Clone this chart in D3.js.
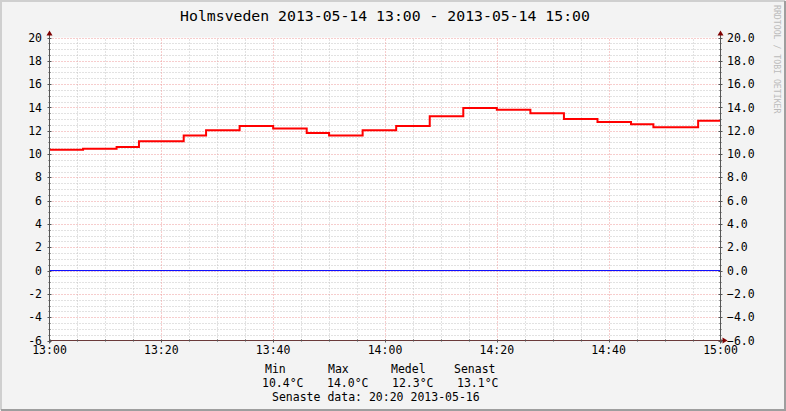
<!DOCTYPE html>
<html>
<head>
<meta charset="utf-8">
<script src="https://cdn.jsdelivr.net/npm/d3@7"></script>
<style>
  body { margin: 0; background: #fff; }
  text { font-family: "DejaVu Sans Mono", monospace; }
</style>
</head>
<body>
<svg id="chart" width="786" height="411"></svg>
<script>
// minutes after 13:00 where the reading changes, and the reading from there on
var stepMinutes = [0, 6, 12, 16, 24, 28, 34, 40, 46, 50, 56, 62, 68, 74, 80, 86, 92, 98, 104, 108, 116];
var tempValues = [10.37, 10.45, 10.6, 11.1, 11.6, 12.05, 12.4, 12.2, 11.8, 11.6, 12.05, 12.4, 13.25, 13.95, 13.8, 13.5, 13.0, 12.75, 12.55, 12.3, 12.85];
// second series, flat at zero
var zeroMinutes = [0, 120];
var zeroValues = [0, 0];

var yTicks = [-6, -4, -2, 0, 2, 4, 6, 8, 10, 12, 14, 16, 18, 20];
var xTickLabels = ["13:00", "13:20", "13:40", "14:00", "14:20", "14:40", "15:00"];
var legendHeads = ["Min", "Max", "Medel", "Senast"];
var legendValues = ["10.4°C", "14.0°C", "12.3°C", "13.1°C"];
var title = "Holmsveden 2013-05-14 13:00 - 2013-05-14 15:00";
var lastData = "Senaste data: 20:20 2013-05-16";

var W = 786, H = 411;
var svg = d3.select("#chart");

var t0 = new Date(2013, 4, 14, 13, 0);
var t1 = new Date(2013, 4, 14, 15, 0);
function minToDate(m) { return new Date(t0.getTime() + m * 60000); }

var x = d3.scaleTime().domain([t0, t1]).range([49.5, 720.5]);
var y = d3.scaleLinear().domain([-6, 20]).range([340.5, 37.5]);

// background + 3d-ish frame
svg.append("rect").attr("width", W).attr("height", H).attr("fill", "#f3f3f3");
svg.append("path").attr("d", "M1," + (H - 1) + " V1 H" + (W - 1))
  .attr("fill", "none").attr("stroke", "#cfcfcf").attr("stroke-width", 2);
svg.append("path").attr("d", "M1," + (H - 1) + " H" + (W - 1) + " V1")
  .attr("fill", "none").attr("stroke", "#9e9e9e").attr("stroke-width", 2);

// canvas
svg.append("rect")
  .attr("x", x.range()[0]).attr("y", y.range()[1])
  .attr("width", x.range()[1] - x.range()[0])
  .attr("height", y.range()[0] - y.range()[1])
  .attr("fill", "#fff");

var grid = svg.append("g");

// minor grid (every 5 min / 0.5 degree)
var minorX = d3.range(5, 120, 5).filter(function(m) { return m % 20 != 0; });
grid.selectAll(".vminor").data(minorX).join("line")
  .attr("x1", function(m) { return Math.round(x(minToDate(m))) + 0.5; })
  .attr("x2", function(m) { return Math.round(x(minToDate(m))) + 0.5; })
  .attr("y1", y(-6)).attr("y2", y(20))
  .attr("stroke", "#c4c4c4").attr("stroke-dasharray", "1,2");

var minorY = d3.range(-5.5, 20, 0.5).filter(function(v) { return v % 2 != 0; });
grid.selectAll(".hminor").data(minorY).join("line")
  .attr("x1", x(t0)).attr("x2", x(t1))
  .attr("y1", function(v) { return Math.round(y(v)) + 0.5; })
  .attr("y2", function(v) { return Math.round(y(v)) + 0.5; })
  .attr("stroke", "#c4c4c4").attr("stroke-dasharray", "1,2");

// major grid
var majorX = d3.range(20, 120, 20);
grid.selectAll(".vmajor").data(majorX).join("line")
  .attr("x1", function(m) { return Math.round(x(minToDate(m))) + 0.5; })
  .attr("x2", function(m) { return Math.round(x(minToDate(m))) + 0.5; })
  .attr("y1", y(-6)).attr("y2", y(20))
  .attr("stroke", "#ee9a9a").attr("stroke-dasharray", "1,2");

grid.selectAll(".hmajor").data(yTicks.filter(function(v) { return v > -6; })).join("line")
  .attr("x1", x(t0)).attr("x2", x(t1))
  .attr("y1", function(v) { return Math.round(y(v)) + 0.5; })
  .attr("y2", function(v) { return Math.round(y(v)) + 0.5; })
  .attr("stroke", "#ee9a9a").attr("stroke-dasharray", "1,2");

// series
var stepLine = d3.line()
  .x(function(d) { return x(minToDate(d[0])); })
  .y(function(d) { return y(d[1]); })
  .curve(d3.curveStepAfter);

var tempPts = stepMinutes.map(function(m, i) { return [m, tempValues[i]]; });
tempPts.push([120, tempValues[tempValues.length - 1]]);
var zeroPts = zeroMinutes.map(function(m, i) { return [m, zeroValues[i]]; });

svg.append("path").datum(zeroPts).attr("d", stepLine)
  .attr("fill", "none").attr("stroke", "#0000ff").attr("stroke-width", 1);
svg.append("path").datum(tempPts).attr("d", stepLine)
  .attr("fill", "none").attr("stroke", "#ff0000").attr("stroke-width", 2);

// axes lines
var axisCol = "#555";
var xl = x.range()[0], xr = x.range()[1], yb = y.range()[0], yt = y.range()[1];
svg.append("line").attr("x1", xl).attr("x2", xl).attr("y1", yb + 3).attr("y2", yt - 5)
  .attr("stroke", axisCol);
svg.append("line").attr("x1", xr).attr("x2", xr).attr("y1", yb + 3).attr("y2", yt - 5)
  .attr("stroke", axisCol);
svg.append("line").attr("x1", xl).attr("x2", xr + 4).attr("y1", yb).attr("y2", yb)
  .attr("stroke", "#6a3a3a");

// arrows
var arrowCol = "#7f0000";
[xl, xr].forEach(function(ax) {
  svg.append("path")
    .attr("d", "M" + (ax - 3) + "," + (yt - 2) + " L" + ax + "," + (yt - 7) + " L" + (ax + 3) + "," + (yt - 2) + "Z")
    .attr("fill", arrowCol);
});
svg.append("path")
  .attr("d", "M" + (xr + 2) + "," + (yb - 3) + " L" + (xr + 7) + "," + yb + " L" + (xr + 2) + "," + (yb + 3) + "Z")
  .attr("fill", arrowCol);

// axis ticks
var ticks = svg.append("g").attr("stroke", axisCol);
yTicks.forEach(function(v) {
  var yy = Math.round(y(v)) + 0.5;
  ticks.append("line").attr("x1", xl - 2).attr("x2", xl + 2).attr("y1", yy).attr("y2", yy);
  ticks.append("line").attr("x1", xr - 2).attr("x2", xr + 2).attr("y1", yy).attr("y2", yy);
});
minorY.forEach(function(v) {
  var yy = Math.round(y(v)) + 0.5;
  ticks.append("line").attr("x1", xl - 1).attr("x2", xl + 1).attr("y1", yy).attr("y2", yy);
  ticks.append("line").attr("x1", xr - 1).attr("x2", xr + 1).attr("y1", yy).attr("y2", yy);
});
d3.range(0, 125, 5).forEach(function(m) {
  var xx = Math.round(x(minToDate(m))) + 0.5;
  ticks.append("line").attr("x1", xx).attr("x2", xx).attr("y1", yb - 1).attr("y2", yb + (m % 20 == 0 ? 2 : 1));
});

// tick labels
svg.append("g").selectAll("text").data(yTicks).join("text")
  .attr("x", 42).attr("y", function(v) { return y(v); }).attr("dy", "0.36em")
  .attr("text-anchor", "end").attr("font-size", 11.5).attr("fill", "#000")
  .text(function(v) { return v; });
svg.append("g").selectAll("text").data(yTicks).join("text")
  .attr("x", 727).attr("y", function(v) { return y(v); }).attr("dy", "0.36em")
  .attr("text-anchor", "start").attr("font-size", 11.5).attr("fill", "#000")
  .text(function(v) { return d3.format(".1f")(v); });
svg.append("g").selectAll("text").data(xTickLabels).join("text")
  .attr("x", function(d, i) { return x(minToDate(i * 20)); })
  .attr("y", 354).attr("text-anchor", "middle").attr("font-size", 11.5)
  .text(function(d) { return d; });

// title
svg.append("text").attr("x", 385).attr("y", 21).attr("text-anchor", "middle")
  .attr("font-size", 14.8).text(title);

// watermark
svg.append("text").attr("transform", "translate(774,5) rotate(90)")
  .attr("font-size", 8.2).attr("fill", "#bbb").text("RRDTOOL / TOBI OETIKER");

// legend
var headX = [265, 328, 391, 454];
var valX = [262, 327, 392, 457];
svg.append("g").selectAll("text").data(legendHeads).join("text")
  .attr("x", function(d, i) { return headX[i]; }).attr("y", 373)
  .attr("font-size", 11.5).text(function(d) { return d; });
svg.append("g").selectAll("text").data(legendValues).join("text")
  .attr("x", function(d, i) { return valX[i]; }).attr("y", 387)
  .attr("font-size", 11.5).text(function(d) { return d; });
svg.append("text").attr("x", 272).attr("y", 401).attr("font-size", 11.5).text(lastData);
</script>
</body>
</html>
